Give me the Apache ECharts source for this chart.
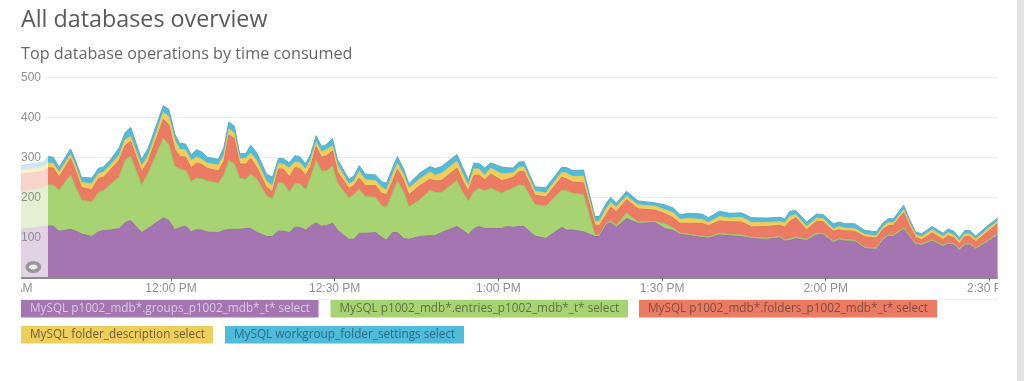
<!DOCTYPE html>
<html><head><meta charset="utf-8">
<style>html,body{margin:0;padding:0;background:#fff}#c{width:1024px;height:381px}</style>
<script src="https://cdn.jsdelivr.net/npm/echarts@6/dist/echarts.min.js"></script>
</head><body><div id="c"></div>
<script>
const seriesNames = ['MySQL p1002_mdb*.groups_p1002_mdb*_t* select','MySQL p1002_mdb*.entries_p1002_mdb*_t* select','MySQL p1002_mdb*.folders_p1002_mdb*_t* select','MySQL folder_description select','MySQL workgroup_folder_settings select'];
const tickLabels = ['11:30 AM','12:00 PM','12:30 PM','1:00 PM','1:30 PM','2:00 PM','2:30 PM','3:00 PM'];
// minutes after 11:30 AM
const minutes = [2.5,6.6,7.5,8.4,9.5,11.6,12.6,13.6,15.5,16.7,17.6,18.8,20.5,21.6,22.6,24.6,25.8,28.6,29.6,30.7,31.6,32.7,33.7,34.7,35.7,36.7,38.7,39.7,40.6,41.6,42.6,43.7,44.6,45.7,47.5,48.6,49.7,50.6,51.7,52.7,53.6,54.7,55.6,56.6,57.6,58.5,59.6,60.5,62.6,63.5,64.5,65.6,67.5,68.6,69.5,70.6,71.5,72.6,73.6,75.6,77.5,78.4,79.6,82.4,83.4,84.5,85.5,86.4,87.5,88.6,90.6,91.6,92.7,93.8,94.7,96.7,98.7,101.6,102.5,103.6,105.6,107.7,108.5,109.7,110.6,111.6,113.5,115.6,118.7,120.5,122.1,123.3,124.8,127.3,128.5,130.5,132.4,134.6,136.4,139.2,141.6,142.5,143.4,144.5,146.5,148.3,149.5,151.4,152.5,153.5,155.3,157.2,159.3,160.5,161.5,162.4,164.3,165.4,166.5,167.6,169.5,171.5,172.4,173.5,174.5,175.5,176.4,177.5,179.5,181.5];
const groupsSelect = [120,127,128,128,115,120,115,108,102,114,117,118,122,137,142,112,122,149,142,119,124,128,114,119,118,113,112,117,120,120,120,122,122,113,102,102,116,115,112,125,125,118,128,136,128,129,135,118,95,95,110,110,112,100,93,112,112,97,95,102,104,104,112,127,118,107,121,127,122,122,122,127,125,127,127,103,97,125,118,118,114,102,102,132,137,125,147,135,137,122,117,107,105,100,98,106,104,102,97,95,99,91,92,97,92,106,107,87,94,91,90,72,70,93,103,102,120,99,82,80,91,77,83,81,68,81,81,71,87,106];
const entriesSelect = [94,96,103,103,103,136,108,85,86,98,100,113,129,157,160,118,138,199,189,159,147,139,125,129,128,128,123,139,172,163,128,123,136,133,102,94,121,120,101,109,109,101,122,156,138,137,143,118,103,112,110,92,88,79,82,98,129,117,81,92,114,108,100,115,96,83,93,95,94,101,88,90,98,104,102,79,81,93,98,92,93,4,4,1,5,4,14,3,3,12,6,3,3,2,3,4,3,4,3,3,3,3,4,4,3,4,3,3,3,3,3,3,4,4,3,3,4,3,3,3,3,3,3,3,3,3,3,2,3,3];
const foldersSelect = [44,42,43,42,33,41,40,31,31,35,33,36,42,35,38,34,29,47,50,42,31,33,35,38,36,31,31,33,64,64,35,38,39,29,21,18,34,35,38,40,38,36,27,35,34,38,38,28,24,22,28,27,29,31,31,29,29,29,30,35,27,29,30,31,29,25,40,34,28,35,32,28,27,33,35,23,23,32,30,28,29,25,23,22,33,35,33,33,28,25,25,25,27,33,28,31,32,32,26,29,28,31,44,48,24,30,29,25,22,22,22,26,24,23,23,25,38,25,14,11,17,14,18,14,13,18,18,16,22,25];
const descriptionSelect = [10,11,12,12,12,10,12,13,15,12,13,12,12,15,12,14,14,17,21,23,18,18,18,15,13,13,15,17,15,14,13,14,14,17,15,14,13,13,22,14,15,16,17,11,14,15,13,17,11,11,17,15,13,15,12,17,15,14,17,17,18,14,18,17,17,13,17,15,11,15,17,15,11,11,12,10,10,12,15,14,17,9,11,15,12,11,9,10,10,10,14,10,12,10,8,11,9,12,11,10,9,11,12,8,8,8,8,6,8,7,7,6,6,7,8,6,7,8,7,7,8,8,8,7,7,6,6,6,7,6];
const settingsSelect = [12,12,16,15,12,14,13,13,14,13,13,13,19,18,23,17,19,17,18,15,15,15,14,18,18,15,14,19,17,17,13,12,19,20,18,22,13,14,13,16,14,13,14,16,13,13,18,14,12,13,14,14,14,14,17,17,17,15,11,15,14,17,17,17,17,15,14,14,18,13,17,14,12,13,13,11,13,13,13,15,15,12,12,14,13,10,12,10,8,12,11,11,13,13,12,13,12,11,12,11,11,10,13,10,11,10,10,13,11,11,12,10,10,9,10,10,11,8,7,8,8,8,9,10,8,9,9,8,8,8];
const allValues = [groupsSelect,entriesSelect,foldersSelect,descriptionSelect,settingsSelect];
const colors = ['#a575b1','#a8d373','#ec7b63','#efcf5c','#4fbcdc'];
const edgeColors = ['#9a6ca6','#98c766','#e0735c','#e6c655','#5fa9c2'];
const chipText = ['#d9cbe2','#5c7342','#7d4c42','#6d5f3c','#2f6b82'];
const chipBoxes = [[21,300,297.5],[330.5,300,297.5],[639,300,298],[21,326,192],[225,326,239]];
const fam = '"Open Sans",sans-serif';
const minuteMs = 60000;
const halfHour = 1800000;
const chips = [];
seriesNames.forEach((n,i)=>{
  const b = chipBoxes[i];
  chips.push({type:'rect',z:20,shape:{x:b[0],y:b[1],width:b[2],height:17.5},style:{fill:colors[i]}});
  chips.push({type:'text',z:21,x:b[0]+9,y:b[1]+8.8,style:{text:n,fill:chipText[i],font:'11.75px '+fam,verticalAlign:'middle'}});
});
const option = {
  animation:false,
  backgroundColor:'#fff',
  title:[
    {text:'All databases overview',left:21,top:9,padding:0,textStyle:{fontFamily:fam,fontSize:23.3,fontWeight:'normal',color:'#5a5a5a'}},
    {text:'Top database operations by time consumed',left:21,top:46.5,padding:0,textStyle:{fontFamily:fam,fontSize:16.2,fontWeight:'normal',color:'#666'}}
  ],
  grid:{left:7.3,top:77.3,width:1145.8,height:200,outerBoundsMode:'none',containLabel:false},
  xAxis:{type:'value',min:0,max:7*halfHour,interval:halfHour,z:6,
    axisLine:{lineStyle:{color:'#8c8c8c',width:2}},
    axisTick:{length:4,lineStyle:{color:'#777'}},
    splitLine:{show:false},
    axisLabel:{margin:5,fontFamily:'"Liberation Sans",sans-serif',fontSize:12,color:'#8f8f8f',formatter:v=>tickLabels[Math.round(v/halfHour)]}
  },
  yAxis:[
    {type:'value',min:0,max:500,interval:100,z:0,axisLine:{show:false},axisTick:{show:false},axisLabel:{show:false},splitLine:{lineStyle:{color:'#ececec'}}},
    {type:'value',min:0,max:500,interval:100,z:7,position:'left',axisLine:{show:false},axisTick:{show:false},splitLine:{show:false},
     axisLabel:{inside:true,margin:13.7,showMinLabel:false,fontFamily:'"Liberation Sans",sans-serif',fontSize:12,color:'#8f8f8f',formatter:v=>v?String(v):''}}
  ],
  series:allValues.map((vals,i)=>({
    name:seriesNames[i],type:'line',stack:'t',yAxisIndex:0,z:2,showSymbol:false,
    encode:{x:1,y:0},
    lineStyle:{width:1,color:edgeColors[i]},
    itemStyle:{color:colors[i]},
    areaStyle:{color:colors[i],opacity:1},
    data:vals.map((v,j)=>[v,minutes[j]*minuteMs])
  })),
  graphic:[
    {type:'rect',z:5,shape:{x:21,y:60,width:27,height:217},style:{fill:'rgba(255,255,255,0.68)'}},
    {type:'ellipse',z:5.5,shape:{cx:33.3,cy:267,rx:6.2,ry:4.2},style:{fill:'rgba(255,255,255,0.45)',stroke:'#979797',lineWidth:3.5}},
    {type:'rect',z:10,shape:{x:0,y:60,width:21,height:239},style:{fill:'#fff'}},
    {type:'rect',z:10,shape:{x:998,y:60,width:19,height:240},style:{fill:'#fff'}},
    {type:'rect',z:10,shape:{x:1017,y:0,width:7,height:381},style:{fill:'#e2e2e2'}},
    {type:'rect',z:10,shape:{x:21,y:299,width:977,height:1},style:{fill:'#f1f1f1'}}
  ].concat(chips)
};
echarts.init(document.getElementById('c')).setOption(option);
</script></body></html>
